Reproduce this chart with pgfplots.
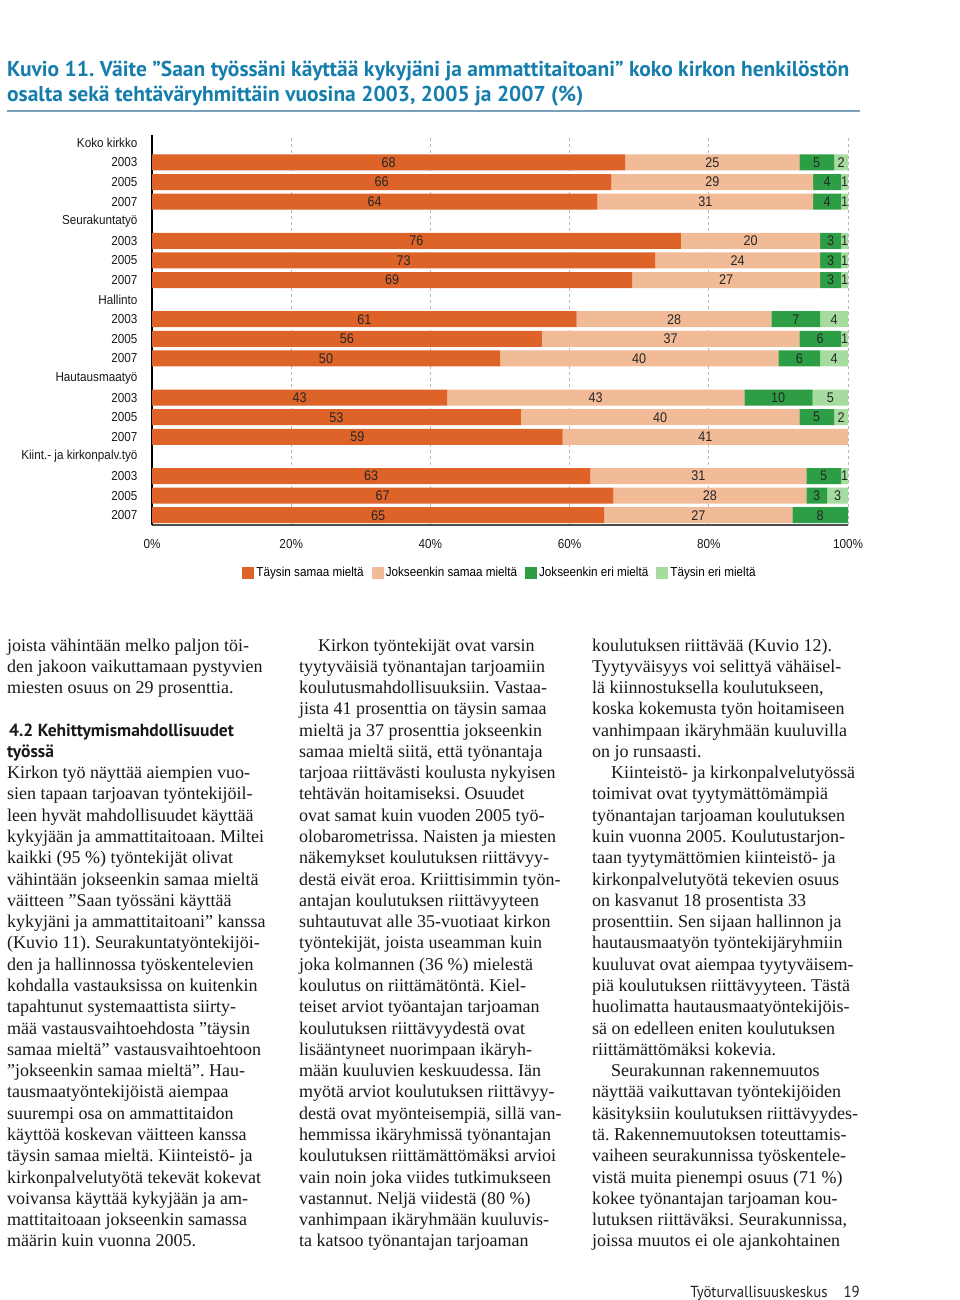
\documentclass[border=0pt]{standalone}
\usepackage{fontspec}
\setmainfont{Liberation Serif}
\newfontfamily\chartfont{Liberation Sans}[FakeStretch=0.9]
\newfontfamily\titlefont{PT Sans}
\newfontfamily\footfont{PT Sans}[FakeStretch=0.93]
\usepackage{pgfplots}
\pgfplotsset{compat=1.18}
\usepackage{pgfplotstable}
\definecolor{c1}{RGB}{221,99,40}
\definecolor{c2}{RGB}{242,187,152}
\definecolor{c3}{RGB}{46,158,70}
\definecolor{c4}{RGB}{166,220,160}
\definecolor{titleblue}{RGB}{22,126,172}
\definecolor{rulecol}{RGB}{120,160,185}
\newcommand\cf{\chartfont\fontsize{13}{15}\selectfont}
\newcommand\nf{\chartfont\fontsize{14}{16}\selectfont}
\frenchspacing

\pgfplotstableread{
y a b c d
19 68 25 5 2
18 66 29 4 1
17 64 31 4 1
15 76 20 3 1
14 72.3 23.7 3 1
13 69 27 3 1
11 61 28 7 4
10 56 37 6 1
9 50 40 6 4
7 42.4 42.7 9.8 5.1
6 53 40 5 2
5 59 41 0 0
3 63 31 5 1
2 66.3 27.7 3 3
1 65 27 8 0
}\bars

\pgfplotstableread{
x y l
34 19 68
80.5 19 25
95.5 19 5
99 19 2
33 18 66
80.5 18 29
97 18 4
99.5 18 1
32 17 64
79.5 17 31
97 17 4
99.5 17 1
38 15 76
86 15 20
97.5 15 3
99.5 15 1
36.15 14 73
84.15 14 24
97.5 14 3
99.5 14 1
34.5 13 69
82.5 13 27
97.5 13 3
99.5 13 1
30.5 11 61
75 11 28
92.5 11 7
98 11 4
28 10 56
74.5 10 37
96 10 6
99.5 10 1
25 9 50
70 9 40
93 9 6
98 9 4
21.2 7 43
63.75 7 43
89.95 7 10
97.45 7 5
26.5 6 53
73 6 40
95.5 6 5
99 6 2
29.5 5 59
79.5 5 41
31.5 3 63
78.5 3 31
96.5 3 5
99.5 3 1
33.15 2 67
80.15 2 28
95.5 2 3
98.5 2 3
32.5 1 65
78.5 1 27
96 1 8
}\labels

\begin{document}
\begin{tikzpicture}
\path[use as bounding box] (0,0) rectangle (960pt,-1300pt);
\fill[white] (0,0) rectangle (960pt,-1300pt);

\begin{axis}[
  at={(152pt,-525pt)}, anchor=south west,
  scale only axis, width=696pt, height=390pt,
  xbar stacked, bar width=16pt,
  legend image code/.code={\fill[#1] (0pt,-6pt) rectangle (12pt,6pt);},
  xmin=0, xmax=100, ymin=0.5, ymax=20.4,
  axis x line*=bottom, axis y line*=left,
  x axis line style={line width=2.5pt, draw=black!70, -},
  y axis line style={line width=1.2pt, draw=black, -},
  xtick={0,20,40,60,80,100},
  xticklabels={0\%,20\%,40\%,60\%,80\%,100\%},
  ytick={1,...,20},
  yticklabels={2007,2005,2003,Kiint.- ja kirkonpalv.työ,2007,2005,2003,Hautausmaatyö,2007,2005,2003,Hallinto,2007,2005,2003,Seurakuntatyö,2007,2005,2003,Koko kirkko},
  tick style={draw=none},
  xmajorgrids, grid style={dashed, gray!55, line width=0.8pt},
  ticklabel style={font=\cf, text=black!90},
  yticklabel style={xshift=-11pt},
  xticklabel style={yshift=-11pt},
  legend style={at={(0.5,-0.122)}, anchor=center, draw=none, fill=none,
    legend columns=-1, font=\cf, inner sep=0pt,
    /tikz/every even column/.append style={column sep=6pt}},
]
\addplot[fill=c1, draw=none] table[x=a, y=y]{\bars};
\addplot[fill=c2, draw=none] table[x=b, y=y]{\bars};
\addplot[fill=c3, draw=none] table[x=c, y=y]{\bars};
\addplot[fill=c4, draw=none] table[x=d, y=y]{\bars};
\legend{Täysin samaa mieltä, Jokseenkin samaa mieltä, Jokseenkin eri mieltä, Täysin eri mieltä}
\end{axis}

\begin{axis}[
  at={(152pt,-525pt)}, anchor=south west,
  scale only axis, width=696pt, height=390pt,
  xmin=0, xmax=100, ymin=0.5, ymax=20.4,
  hide axis, clip=false,
]
\addplot[draw=none, mark=none, nodes near coords, point meta=explicit symbolic,
  every node near coord/.append style={font=\nf, anchor=center, text=black!85, inner sep=0pt}]
  table[x=x, y=y, meta=l]{\labels};
\end{axis}

\begin{scope}[x=1pt, y=-1pt]
\tikzset{
  ttl/.style={anchor=base west, inner sep=0pt, text=titleblue, font=\titlefont\bfseries\fontsize{21.5}{24}\selectfont},
  body/.style={anchor=base west, inner sep=0pt, text=black!90, font=\fontsize{18}{20}\selectfont},
  head/.style={anchor=base west, inner sep=0pt, text=black!90, font=\titlefont\bfseries\fontsize{17.5}{20}\selectfont},
}
\node[ttl] at (7,77) {Kuvio 11. Väite ”Saan työssäni käyttää kykyjäni ja ammattitaitoani” koko kirkon henkilöstön};
\node[ttl] at (7,102) {osalta sekä tehtäväryhmittäin vuosina 2003, 2005 ja 2007 (\%)};
\draw[rulecol, line width=1.8pt] (7,111) -- (860,111);

% column 1
\foreach \t [count=\i from 0] in {
 {joista vähintään melko paljon töi-},
 {den jakoon vaikuttamaan pystyvien},
 {miesten osuus on 29 prosenttia.}}
 {\node[body] at (7,{651+\i*21.28}) {\t};}
\node[head] at (9,{651+4*21.28}) {4.2 Kehittymismahdollisuudet};
\node[head] at (7,{651+5*21.28}) {työssä};
\foreach \t [count=\i from 6] in {
 {Kirkon työ näyttää aiempien vuo-},
 {sien tapaan tarjoavan työntekijöil-},
 {leen hyvät mahdollisuudet käyttää},
 {kykyjään ja ammattitaitoaan. Miltei},
 {kaikki (95 \%) työntekijät olivat},
 {vähintään jokseenkin samaa mieltä},
 {väitteen ”Saan työssäni käyttää},
 {kykyjäni ja ammattitaitoani” kanssa},
 {(Kuvio 11). Seurakuntatyöntekijöi-},
 {den ja hallinnossa työskentelevien},
 {kohdalla vastauksissa on kuitenkin},
 {tapahtunut systemaattista siirty-},
 {mää vastausvaihtoehdosta ”täysin},
 {samaa mieltä” vastausvaihtoehtoon},
 {”jokseenkin samaa mieltä”. Hau-},
 {tausmaatyöntekijöistä aiempaa},
 {suurempi osa on ammattitaidon},
 {käyttöä koskevan väitteen kanssa},
 {täysin samaa mieltä. Kiinteistö- ja},
 {kirkonpalvelutyötä tekevät kokevat},
 {voivansa käyttää kykyjään ja am-},
 {mattitaitoaan jokseenkin samassa},
 {määrin kuin vuonna 2005.}}
 {\node[body] at (7,{651+\i*21.28}) {\t};}

% column 2
\foreach \t [count=\i from 0] in {
 {\hspace*{19pt}Kirkon työntekijät ovat varsin},
 {tyytyväisiä työnantajan tarjoamiin},
 {koulutusmahdollisuuksiin. Vastaa-},
 {jista 41 prosenttia on täysin samaa},
 {mieltä ja 37 prosenttia jokseenkin},
 {samaa mieltä siitä, että työnantaja},
 {tarjoaa riittävästi koulusta nykyisen},
 {tehtävän hoitamiseksi. Osuudet},
 {ovat samat kuin vuoden 2005 työ-},
 {olobarometrissa. Naisten ja miesten},
 {näkemykset koulutuksen riittävyy-},
 {destä eivät eroa. Kriittisimmin työn-},
 {antajan koulutuksen riittävyyteen},
 {suhtautuvat alle 35-vuotiaat kirkon},
 {työntekijät, joista useamman kuin},
 {joka kolmannen (36 \%) mielestä},
 {koulutus on riittämätöntä. Kiel-},
 {teiset arviot työantajan tarjoaman},
 {koulutuksen riittävyydestä ovat},
 {lisääntyneet nuorimpaan ikäryh-},
 {mään kuuluvien keskuudessa. Iän},
 {myötä arviot koulutuksen riittävyy-},
 {destä ovat myönteisempiä, sillä van-},
 {hemmissa ikäryhmissä työnantajan},
 {koulutuksen riittämättömäksi arvioi},
 {vain noin joka viides tutkimukseen},
 {vastannut. Neljä viidestä (80 \%)},
 {vanhimpaan ikäryhmään kuuluvis-},
 {ta katsoo työnantajan tarjoaman}}
 {\node[body] at (299,{651+\i*21.28}) {\t};}

% column 3
\foreach \t [count=\i from 0] in {
 {koulutuksen riittävää (Kuvio 12).},
 {Tyytyväisyys voi selittyä vähäisel-},
 {lä kiinnostuksella koulutukseen,},
 {koska kokemusta työn hoitamiseen},
 {vanhimpaan ikäryhmään kuuluvilla},
 {on jo runsaasti.},
 {\hspace*{19pt}Kiinteistö- ja kirkonpalvelutyössä},
 {toimivat ovat tyytymättömämpiä},
 {työnantajan tarjoaman koulutuksen},
 {kuin vuonna 2005. Koulutustarjon-},
 {taan tyytymättömien kiinteistö- ja},
 {kirkonpalvelutyötä tekevien osuus},
 {on kasvanut 18 prosentista 33},
 {prosenttiin. Sen sijaan hallinnon ja},
 {hautausmaatyön työntekijäryhmiin},
 {kuuluvat ovat aiempaa tyytyväisem-},
 {piä koulutuksen riittävyyteen. Tästä},
 {huolimatta hautausmaatyöntekijöis-},
 {sä on edelleen eniten koulutuksen},
 {riittämättömäksi kokevia.},
 {\hspace*{19pt}Seurakunnan rakennemuutos},
 {näyttää vaikuttavan työntekijöiden},
 {käsityksiin koulutuksen riittävyydes-},
 {tä. Rakennemuutoksen toteuttamis-},
 {vaiheen seurakunnissa työskentele-},
 {vistä muita pienempi osuus (71 \%)},
 {kokee työnantajan tarjoaman kou-},
 {lutuksen riittäväksi. Seurakunnissa,},
 {joissa muutos ei ole ajankohtainen}}
 {\node[body] at (592,{651+\i*21.28}) {\t};}

\node[anchor=base east, inner sep=0pt, text=black!85, font=\footfont\fontsize{16}{18}\selectfont] at (860,1297) {Työturvallisuuskeskus\hspace{16pt}19};
\end{scope}
\end{tikzpicture}
\end{document}
